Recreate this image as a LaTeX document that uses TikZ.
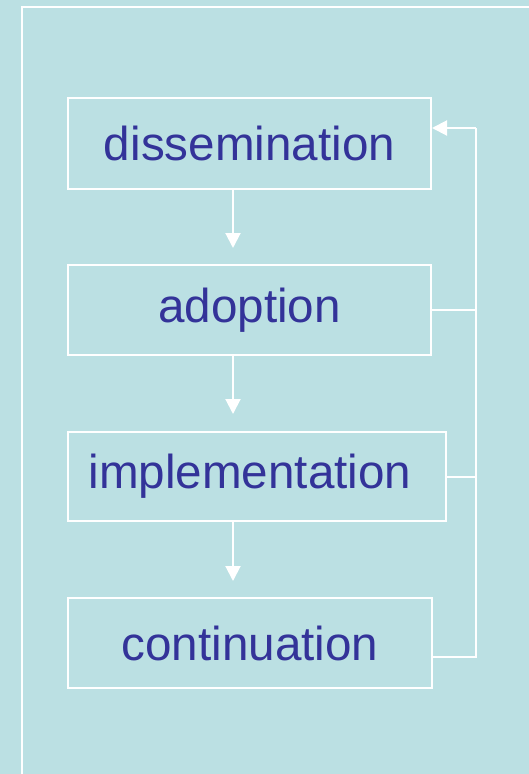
\documentclass[tikz,border=0pt]{standalone}
\usepackage{fontspec}
\setmainfont{Liberation Sans}
\usetikzlibrary{arrows.meta}
\definecolor{bg}{RGB}{187,224,227}
\definecolor{txt}{RGB}{51,51,153}
\begin{document}
\begin{tikzpicture}[x=1pt,y=-1pt,
  stagebox/.style={draw=white,line width=2pt,anchor=north west,inner sep=0pt,
    text=txt,font=\fontsize{47.6}{56}\selectfont},
  conn/.style={draw=white,line width=2pt},
  tip/.style={-{Triangle[length=15pt,width=15pt]}}]
\fill[bg] (0,0) rectangle (529,774);
\useasboundingbox (0,0) rectangle (529,774);
\draw[conn] (22,774) -- (22,7) -- (529,7);
\node[stagebox,minimum width=363pt,minimum height=91pt] (dis) at (67,97) {dissemination};
\node[stagebox,minimum width=363pt,minimum height=90pt] (ado) at (67,264) {adoption};
\node[stagebox,minimum width=378pt,minimum height=89pt] (imp) at (67,431) {\hspace*{-14pt}implementation};
\node[stagebox,minimum width=364pt,minimum height=90pt] (con) at (67,597) {continuation};
\coordinate (a1) at (233,248);
\coordinate (a2) at (233,414);
\coordinate (a3) at (233,581);
\draw[conn,tip] (dis.south -| a1) -- (a1);
\draw[conn,tip] (ado.south -| a2) -- (a2);
\draw[conn,tip] (imp.south -| a3) -- (a3);
\coordinate (top) at (476,128);
\coordinate (bot) at (476,657);
\draw[conn] (con.east |- bot) -- (bot) -- (top);
\draw[conn,tip] (top) -- (dis.east |- top);
\draw[conn] (ado.east) -- (ado.east -| top);
\draw[conn] (imp.east) -- (imp.east -| top);
\end{tikzpicture}
\end{document}
